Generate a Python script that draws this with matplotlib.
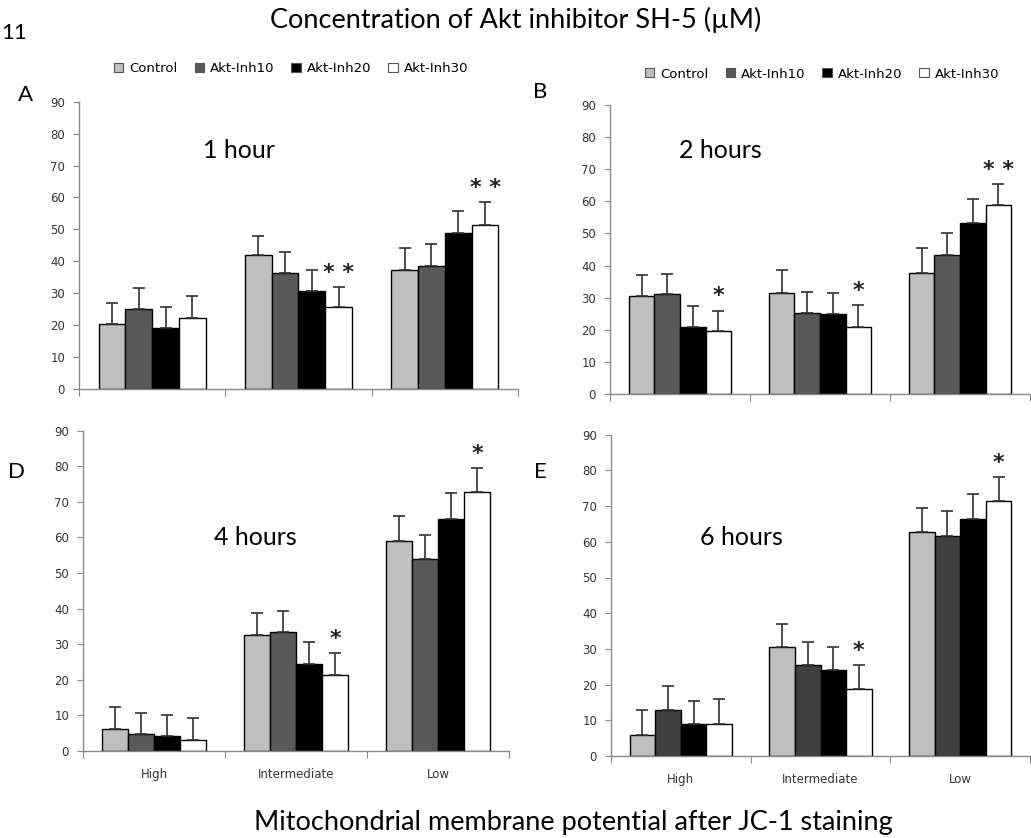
import matplotlib.pyplot as plt
import numpy as np
from matplotlib.patches import Patch

# groups and series
categories = ["High", "Intermediate", "Low"]
series = ["Control", "Akt-Inh10", "Akt-Inh20", "Akt-Inh30"]

# panel A, 1 hour  (rows = series, cols = categories)
a_vals = [[20.3, 42.0, 37.3], [25.0, 36.2, 38.5], [19.2, 30.8, 48.8], [22.3, 25.8, 51.5]]
a_err = [[27.0, 48.0, 44.3], [31.5, 42.8, 45.5], [25.8, 37.3, 55.7], [29.0, 32.0, 58.5]]
# panel B, 2 hours
b_vals = [[30.6, 31.4, 37.8], [31.0, 25.3, 43.2], [21.0, 25.0, 53.4], [19.5, 21.0, 58.8]]
b_err = [[37.1, 38.6, 45.4], [37.3, 31.8, 50.0], [27.5, 31.5, 60.6], [26.0, 27.6, 65.5]]
# panel D, 4 hours
d_vals = [[6.2, 32.7, 59.0], [4.8, 33.4, 54.0], [4.1, 24.5, 65.2], [3.1, 21.4, 72.9]]
d_err = [[12.4, 38.9, 65.9], [10.7, 39.2, 60.7], [10.0, 30.6, 72.4], [9.3, 27.6, 79.6]]
# panel E, 6 hours
e_vals = [[5.9, 30.5, 62.7], [12.8, 25.4, 61.7], [9.0, 24.1, 66.4], [9.0, 18.9, 71.3]]
e_err = [[12.8, 37.0, 69.6], [19.6, 31.9, 68.5], [15.5, 30.6, 73.4], [15.9, 25.4, 78.2]]

# significance marks: (category index, label) on the Akt-Inh30 bar
a_stars = [(1, "* *"), (2, "* *")]
b_stars = [(0, "*"), (1, "*"), (2, "* *")]
d_stars = [(1, "*"), (2, "*")]
e_stars = [(1, "*"), (2, "*")]

colors = ["#bfbfbf", "#595959", "#000000", "#ffffff"]
colors_e = ["#bfbfbf", "#404040", "#000000", "#ffffff"]

W, H = 1031, 838
fig = plt.figure(figsize=(W / 100, H / 100), dpi=100)


def px_axes(l, t, r, b):
    return fig.add_axes([l / W, 1 - b / H, (r - l) / W, (b - t) / H])


def draw_panel(ax, vals, errs, stars, cols, show_labels):
    x = np.arange(len(categories))
    bw = 0.183
    for i in range(len(series)):
        pos = x + (i - 1.5) * bw
        v = np.array(vals[i])
        top = np.array(errs[i])
        ax.bar(pos, v, bw, color=cols[i], edgecolor="black", linewidth=1.0, zorder=2)
        ax.errorbar(pos, v, yerr=[np.zeros_like(v), top - v], fmt="none",
                    ecolor="#303030", elinewidth=1.2, capsize=4, capthick=1.2, zorder=3)
    for c, s in stars:
        xs = x[c] + 1.5 * bw
        ax.annotate(s, (xs, errs[3][c]), xytext=(0, 3), textcoords="offset points",
                    ha="center", va="bottom", fontsize=16, fontweight="bold",
                    family="DejaVu Sans", color="#222222")
    ax.set_xlim(-0.5, 2.5)
    ax.set_ylim(0, 90)
    ax.set_yticks(np.arange(0, 91, 10))
    ax.set_xticks([-0.5, 0.5, 1.5, 2.5])
    ax.set_xticklabels([])
    ax.set_xticks(x, minor=True)
    if show_labels:
        ax.set_xticklabels(categories, minor=True)
    ax.tick_params(axis="x", which="minor", length=0, pad=12, labelsize=8.5, labelcolor="#333333")
    ax.tick_params(axis="x", which="major", length=5, color="#888888")
    ax.tick_params(axis="y", length=4, color="#888888", pad=6, labelsize=8.5, labelcolor="#333333")
    for s in ["top", "right"]:
        ax.spines[s].set_visible(False)
    for s in ["left", "bottom"]:
        ax.spines[s].set_color("#888888")
        ax.spines[s].set_linewidth(1.0)


axA = px_axes(79, 101.7, 518, 389)
axB = px_axes(610, 105, 1030, 394)
axD = px_axes(83, 430.7, 509, 751)
axE = px_axes(611, 434.7, 1030, 756)

draw_panel(axA, a_vals, a_err, a_stars, colors, False)
draw_panel(axB, b_vals, b_err, b_stars, colors, False)
draw_panel(axD, d_vals, d_err, d_stars, colors, True)
draw_panel(axE, e_vals, e_err, e_stars, colors_e, True)

title_font = "Lato"
fig.text(516 / W, 1 - 20 / H, "Concentration of Akt inhibitor SH-5 (\u00b5M)",
         ha="center", va="center", fontsize=19.5, family=title_font)
fig.text(573 / W, 1 - 822 / H, "Mitochondrial membrane potential after JC-1 staining",
         ha="center", va="center", fontsize=19.5, family=title_font)
fig.text(1 / W, 1 - 33 / H, "11", ha="left", va="center", fontsize=16, family=title_font)

for lbl, xp, yp in [("A", 25, 95), ("B", 540, 92), ("D", 17, 472), ("E", 540, 472)]:
    fig.text(xp / W, 1 - yp / H, lbl, ha="center", va="center", fontsize=16, family=title_font)

for txt, xp, yp in [("1 hour", 239, 150), ("2 hours", 720, 150), ("4 hours", 255, 537), ("6 hours", 741, 537)]:
    fig.text(xp / W, 1 - yp / H, txt, ha="center", va="center", fontsize=18, family=title_font)

handles = [Patch(facecolor=c, edgecolor="#555555", linewidth=0.8) for c in colors]
for cx, cy in [(291, 69), (822, 74)]:
    fig.legend(handles, series, loc="center", bbox_to_anchor=(cx / W, 1 - cy / H), ncol=4,
               frameon=False, fontsize=9.5, handlelength=0.7, handleheight=0.7,
               handletextpad=0.45, columnspacing=1.3)

fig.savefig("out.png", dpi=100)
